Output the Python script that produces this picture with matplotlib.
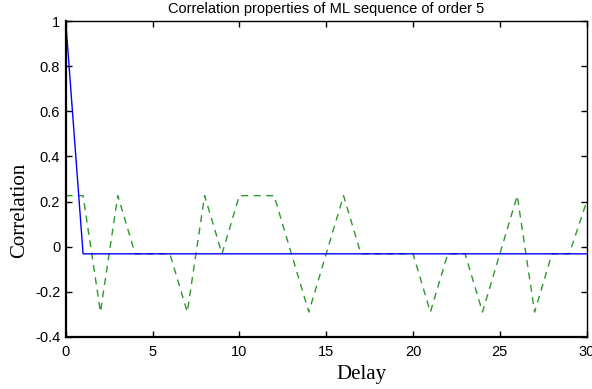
import matplotlib
matplotlib.use("Agg")
import matplotlib.pyplot as plt
import numpy as np

# Delay axis and correlation values of the order-5 ML sequence (period 31)
delay = np.arange(0, 31)
auto_corr = [1.0] + [-0.032] * 30
cross_corr = [0.226, 0.226, -0.29, 0.226, -0.032, -0.032, -0.032, -0.29,
              0.226, -0.032, 0.226, 0.226, 0.226, -0.032, -0.29, -0.032,
              0.226, -0.032, -0.032, -0.032, -0.032, -0.29, -0.032, -0.032,
              -0.29, -0.032, 0.226, -0.29, -0.032, -0.032, 0.2]
x_ticks = [0, 5, 10, 15, 20, 25, 30]
y_ticks = [-0.4, -0.2, 0, 0.2, 0.4, 0.6, 0.8, 1]
y_tick_labels = ["-0.4", "-0.2", "0", "0.2", "0.4", "0.6", "0.8", "1"]

fig = plt.figure(figsize=(5.92, 3.89), dpi=100)
ax = fig.add_axes([0.111, 0.134, 0.880, 0.812])

ax.plot(delay, cross_corr, color="#2a9a2a", linestyle=(0, (5, 4)), linewidth=1)
ax.plot(delay, auto_corr, color="#0000ff", linewidth=1)

ax.set_xlim(0, 30)
ax.set_ylim(-0.4, 1)
ax.set_xticks(x_ticks)
ax.set_yticks(y_ticks)
ax.set_yticklabels(y_tick_labels)
ax.tick_params(direction="in", top=True, right=True, length=4, width=1,
               labelsize=10.5)
ax.tick_params(axis="x", pad=5.5)
ax.tick_params(axis="y", pad=4)
for lbl in ax.get_xticklabels() + ax.get_yticklabels():
    lbl.set_family("Liberation Sans")
for side in ["left", "bottom"]:
    ax.spines[side].set_linewidth(1.6)
for side in ["top", "right"]:
    ax.spines[side].set_linewidth(1.0)

ax.set_title("Correlation properties of ML sequence of order 5",
             family="Liberation Sans", fontsize=10.5, pad=6)
ax.set_xlabel("Delay", family="Liberation Serif", fontsize=15)
ax.set_ylabel("Correlation", family="Liberation Serif", fontsize=15)
# labels sit a little off-centre
ax.xaxis.set_label_coords(0.568, -0.088)
ax.yaxis.set_label_coords(-0.071, 0.40)

fig.savefig("out.png", dpi=100)
